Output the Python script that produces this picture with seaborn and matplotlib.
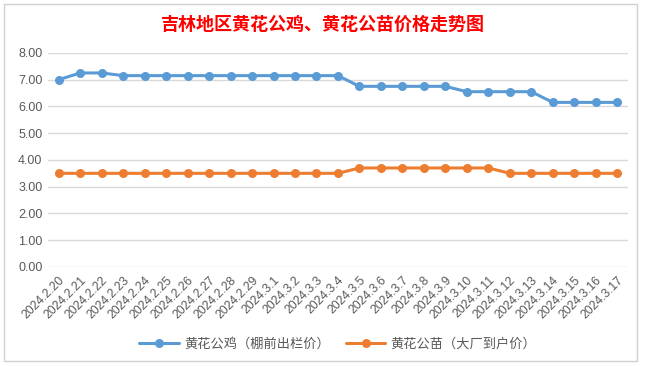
import matplotlib
matplotlib.use("Agg")
import matplotlib.pyplot as plt
import seaborn as sns
import pandas as pd
from matplotlib.patches import Rectangle

dates = ["2024.2.20", "2024.2.21", "2024.2.22", "2024.2.23", "2024.2.24", "2024.2.25",
         "2024.2.26", "2024.2.27", "2024.2.28", "2024.2.29", "2024.3.1", "2024.3.2",
         "2024.3.3", "2024.3.4", "2024.3.5", "2024.3.6", "2024.3.7", "2024.3.8",
         "2024.3.9", "2024.3.10", "2024.3.11", "2024.3.12", "2024.3.13", "2024.3.14",
         "2024.3.15", "2024.3.16", "2024.3.17"]
rooster = [7.00, 7.25, 7.25, 7.15, 7.15, 7.15, 7.15, 7.15, 7.15, 7.15, 7.15, 7.15,
           7.15, 7.15, 6.75, 6.75, 6.75, 6.75, 6.75, 6.55, 6.55, 6.55, 6.55, 6.15,
           6.15, 6.15, 6.15]
chick = [3.50, 3.50, 3.50, 3.50, 3.50, 3.50, 3.50, 3.50, 3.50, 3.50, 3.50, 3.50,
         3.50, 3.50, 3.70, 3.70, 3.70, 3.70, 3.70, 3.70, 3.70, 3.50, 3.50, 3.50,
         3.50, 3.50, 3.50]
series_names = ["黄花公鸡（棚前出栏价）", "黄花公苗（大厂到户价）"]
title = "吉林地区黄花公鸡、黄花公苗价格走势图"
yticks = [0, 1, 2, 3, 4, 5, 6, 7, 8]

sns.set_theme(style="white")
plt.rcParams['font.family'] = ['Noto Sans CJK SC', 'DejaVu Sans']

df = pd.DataFrame({
    "date": dates * 2,
    "x": list(range(len(dates))) * 2,
    "price": rooster + chick,
    "series": [series_names[0]] * len(dates) + [series_names[1]] * len(dates),
})

fig = plt.figure(figsize=(6.45, 3.66), dpi=100)
fig.patches.append(Rectangle((0.006, 0.015), 0.982, 0.975, transform=fig.transFigure,
                             fill=False, edgecolor="#D0D0D0", linewidth=1.0))
ax = fig.add_axes([0.0744, 0.2705, 0.8992, 0.585])

palette = {series_names[0]: "#5B9BD5", series_names[1]: "#ED7D31"}
sns.lineplot(data=df, x="x", y="price", hue="series", palette=palette, ax=ax,
             marker="o", markersize=6.5, markeredgewidth=0, linewidth=2.2, sort=False)

ax.set_xlim(-0.5, len(dates) - 0.5)
ax.set_ylim(0, 8)
ax.set_yticks(yticks)
ax.set_yticklabels([f"{v:.2f}" for v in yticks], fontsize=9, color="#595959",
                   family=['Liberation Sans', 'DejaVu Sans'])
ax.set_xticks(range(len(dates)))
ax.set_xticklabels(dates, rotation=45, ha="right", rotation_mode="anchor",
                   fontsize=8.8, color="#595959", family=['Liberation Sans', 'DejaVu Sans'])
ax.tick_params(axis="both", length=0, pad=4)
ax.tick_params(axis="x", pad=5)
ax.grid(axis="y", color="#D9D9D9", linewidth=1.0)
ax.grid(axis="x", visible=False)
for s in ax.spines.values():
    s.set_visible(False)
ax.set_xlabel("")
ax.set_ylabel("")

leg = ax.legend(loc="center", bbox_to_anchor=(0.5, -0.36), ncol=2, frameon=False,
                fontsize=9.5, handlelength=3.0, columnspacing=1.2, handletextpad=0.4)
for t in leg.get_texts():
    t.set_color("#595959")

fig.text(0.5, 0.935, title, ha="center", va="center", color="#FF0000",
         fontsize=13, fontweight="bold")

fig.savefig("out.png", dpi=100)
